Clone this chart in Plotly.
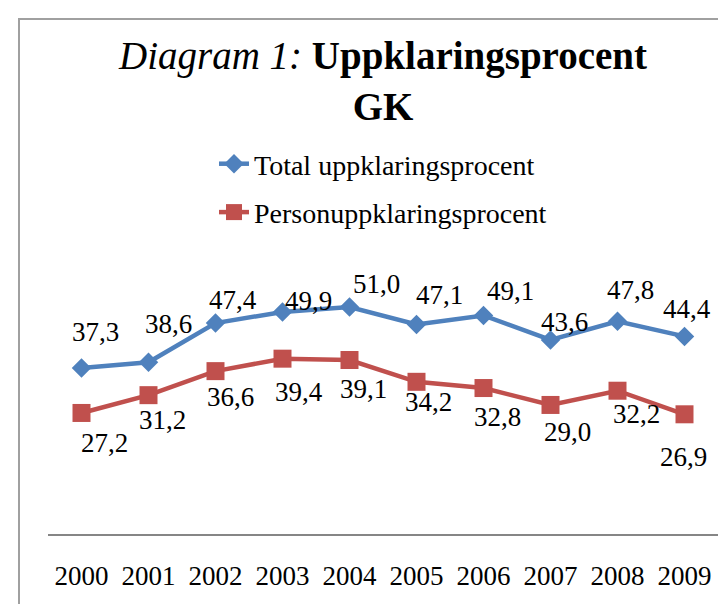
import plotly.graph_objects as go

years = [2000, 2001, 2002, 2003, 2004, 2005, 2006, 2007, 2008, 2009]
total = [37.3, 38.6, 47.4, 49.9, 51.0, 47.1, 49.1, 43.6, 47.8, 44.4]
person = [27.2, 31.2, 36.6, 39.4, 39.1, 34.2, 32.8, 29.0, 32.2, 26.9]
year_labels = [str(y) for y in years]
series_names = ["Total uppklaringsprocent", "Personuppklaringsprocent"]

# label offsets (pixels, x right / y up) - layout only
total_off = [(14, 36), (20, 38), (17, 23), (26, 11), (27, 23), (23, 29), (27, 25), (14, 18), (13, 31), (2, 27)]
person_off = [(23, -30), (14, -25), (15, -26), (16, -33), (14, -29), (12, -20), (14, -29), (17, -27), (19, -23), (-1, -43)]

BLUE = "#4F81BD"
RED = "#C0504D"
FONT = "Liberation Serif"

W, H = 726, 604
ML, MR, MT, MB = 40, 16, 259, 78
PW, PH = W - ML - MR, H - MT - MB


def px2paper_x(px):
    return (px - ML) / PW


def px2paper_y(py):
    return (H - MB - py) / PH


fig = go.Figure()
fig.add_trace(go.Scatter(
    x=years, y=total, name=series_names[0], mode="lines+markers",
    line=dict(color=BLUE, width=4.5),
    marker=dict(symbol="diamond", size=15, color=BLUE),
    legendgroup="a",
))
fig.add_trace(go.Scatter(
    x=years, y=person, name=series_names[1], mode="lines+markers",
    line=dict(color=RED, width=4.5),
    marker=dict(symbol="square", size=18, color=RED),
    legendgroup="b",
))

annotations = []
for xs, ys, offs in ((years, total, total_off), (years, person, person_off)):
    for x, y, (dx, dy) in zip(xs, ys, offs):
        annotations.append(dict(
            x=x, y=y, xref="x", yref="y", text=f"{y:.1f}".replace(".", ","),
            showarrow=False, xshift=dx, yshift=dy,
            font=dict(family=FONT, size=27, color="#000000"),
        ))

annotations.append(dict(
    text="<i>Diagram 1:</i> <b>Uppklaringsprocent</b><br><b>GK</b>",
    xref="paper", yref="paper", x=px2paper_x(374), y=px2paper_y(24),
    xanchor="center", yanchor="top", showarrow=False, align="center",
    font=dict(family=FONT, size=39, color="#000000"),
))

fig.update_layout(
    width=W, height=H,
    margin=dict(l=ML, r=MR, t=MT, b=MB, autoexpand=False),
    paper_bgcolor="white", plot_bgcolor="white",
    font=dict(family=FONT, color="#000000"),
    showlegend=True,
    legend=dict(
        x=px2paper_x(206), xanchor="left",
        y=px2paper_y(131), yanchor="top",
        font=dict(family=FONT, size=28, color="#000000"),
        tracegroupgap=9, bgcolor="rgba(0,0,0,0)",
        orientation="v",
    ),
    xaxis=dict(
        range=[1999.5, 2009.5], tickmode="array", tickvals=years, ticktext=year_labels,
        showgrid=False, zeroline=False, showline=True, linecolor="#868686", linewidth=2,
        ticks="", ticklabelstandoff=17, automargin=False,
        tickfont=dict(family=FONT, size=27, color="#000000"),
    ),
    yaxis=dict(range=[0, 60], visible=False, showgrid=False, zeroline=False, automargin=False),
    annotations=annotations,
    shapes=[dict(
        type="rect", xref="paper", yref="paper",
        x0=px2paper_x(11), x1=px2paper_x(W + 20),
        y0=px2paper_y(H + 20), y1=px2paper_y(11),
        line=dict(color="#A0A0A0", width=2), fillcolor="rgba(0,0,0,0)", layer="below",
    )],
)

fig.write_html("out.html")
